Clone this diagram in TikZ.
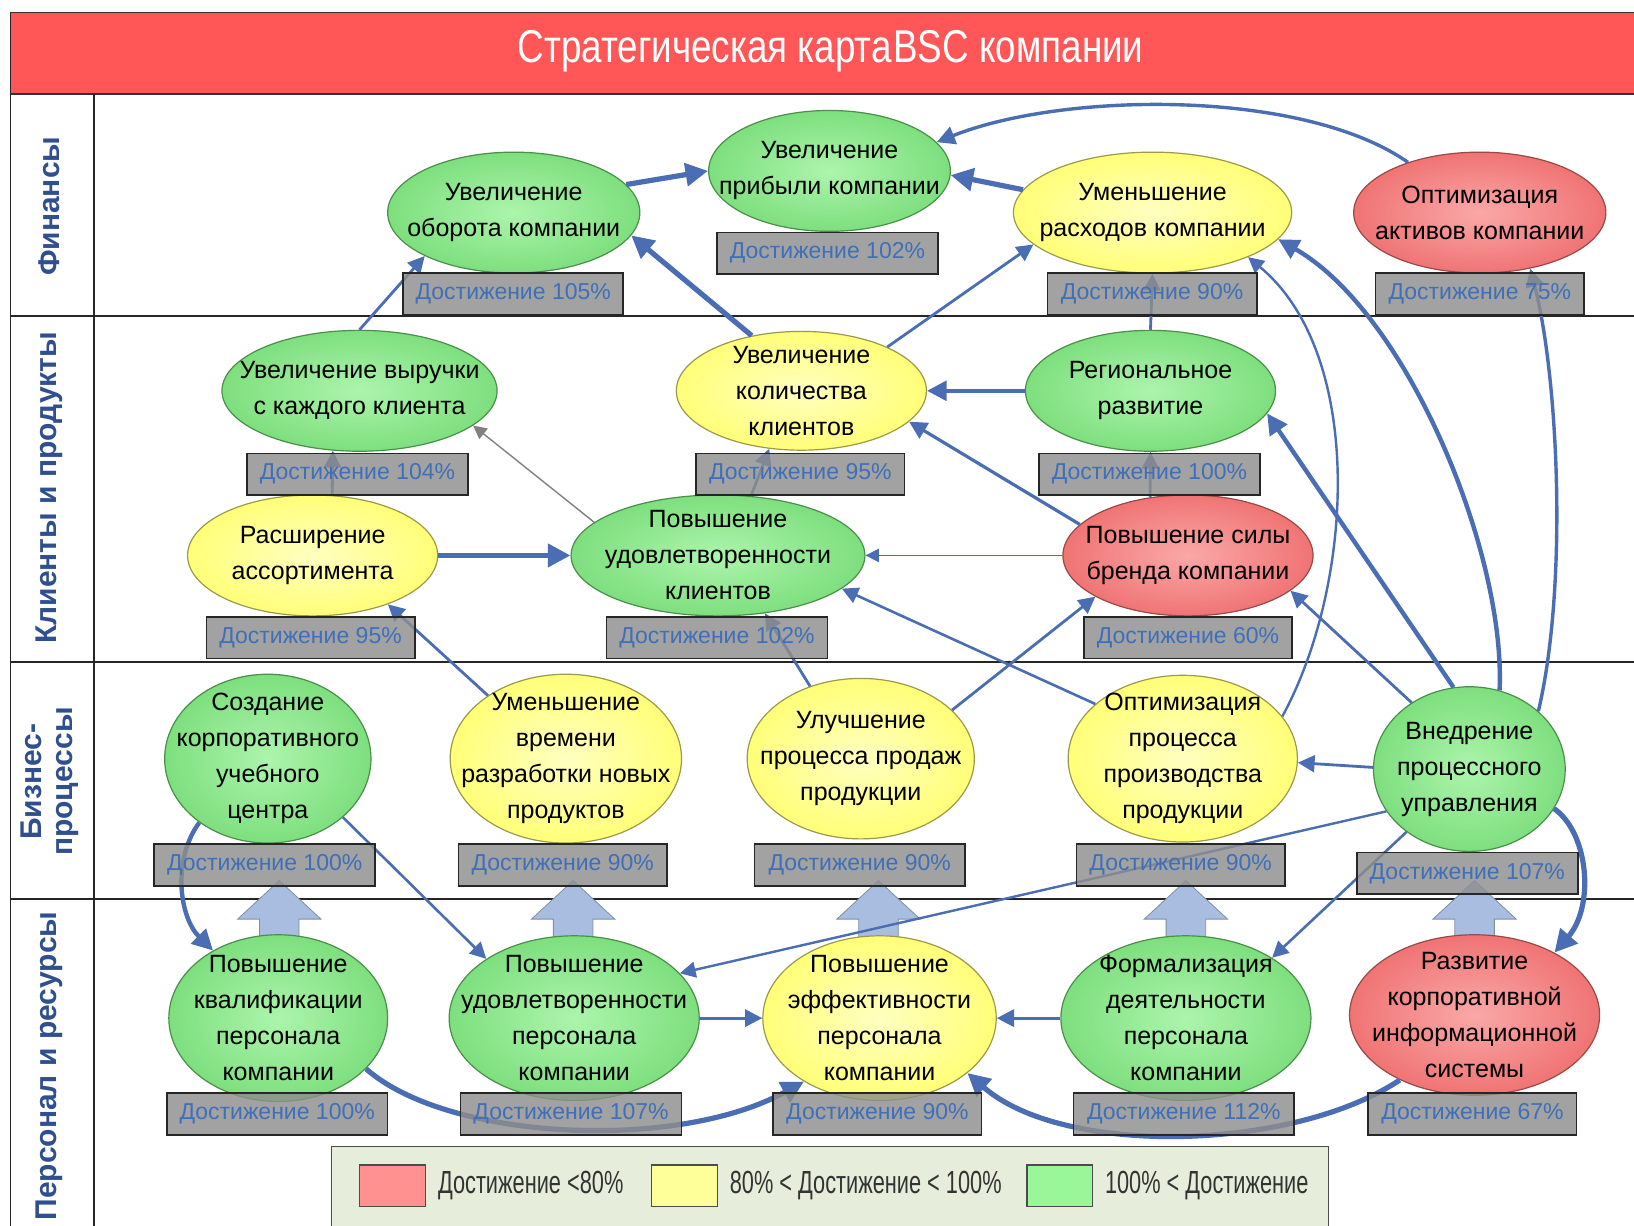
\documentclass[tikz,border=0pt]{standalone}
\usepackage{fontspec}
\setmainfont{Liberation Sans}
\usepackage{graphicx}
\usetikzlibrary{shapes.geometric,arrows.meta}

% one drawing unit
\newcommand{\pxu}{0.5211pt}

\definecolor{titlered}{HTML}{FF5757}
\definecolor{rowblue}{HTML}{2F4F8F}
\definecolor{conblue}{HTML}{4A6DB3}
\definecolor{gIn}{HTML}{ACF5AC}
\definecolor{gOut}{HTML}{7EDF7E}
\definecolor{gLine}{HTML}{4A8F4A}
\definecolor{yIn}{HTML}{FFFFC0}
\definecolor{yOut}{HTML}{FFFF78}
\definecolor{yLine}{HTML}{9A9A48}
\definecolor{rIn}{HTML}{FAA8A8}
\definecolor{rOut}{HTML}{F07474}
\definecolor{rLine}{HTML}{9A4848}
\definecolor{boxgray}{HTML}{8E8E8E}
\definecolor{boxtext}{HTML}{3F6FB8}
\definecolor{blockblue}{HTML}{A9BDE0}
\definecolor{legendbg}{HTML}{E7EDDB}
\definecolor{legred}{HTML}{FF9191}
\definecolor{legyellow}{HTML}{FFFF99}
\definecolor{leggreen}{HTML}{99F799}

\tikzset{
  goal/.style={ellipse, line width=0.6pt, inner xsep=-60pt, inner ysep=-45pt,
    align=center, font=\fontsize{12.5}{18}\selectfont},
  goalg/.style={goal, draw=gLine, inner color=gIn, outer color=gOut},
  goaly/.style={goal, draw=yLine, inner color=yIn, outer color=yOut},
  goalr/.style={goal, draw=rLine, inner color=rIn, outer color=rOut},
  kpi/.style={rectangle, draw=black!85, line width=0.8pt, fill=boxgray,
    fill opacity=0.82, text opacity=1, text=boxtext, minimum height=40*\pxu,
    inner sep=0pt, font=\fontsize{11.5}{13}\selectfont},
  link/.style={draw=conblue, line width=1.4pt,
    -{Triangle[length=5pt 2.4, width=5pt 2.4]}},
  heavy/.style={link, line width=2.6pt},
  light/.style={link, line width=0.7pt},
  rowlabel/.style={rotate=90, align=center, text=rowblue,
    font=\fontsize{15}{16}\selectfont\bfseries},
  gridline/.style={draw=black!85, line width=0.9pt},
  uparrow/.style={fill=blockblue, draw=blockblue!75!black, line width=0.4pt},
  legsq/.style={rectangle, draw=black!70, line width=0.6pt,
    minimum width=63*\pxu, minimum height=40*\pxu},
  legtext/.style={anchor=west, text=black!80, inner sep=0pt,
    font=\fontsize{16}{18}\selectfont},
}

% broad up arrow between the two lower rows
\newcommand{\blockup}[1]{%
  \filldraw[uparrow] (#1-19,908) -- (#1-19,882) -- (#1-40,882) -- (#1,845)
    -- (#1+40,882) -- (#1+19,882) -- (#1+19,908) -- cycle;}

\begin{document}
\begin{tikzpicture}[x=\pxu, y=-\pxu]
\useasboundingbox (0,0) rectangle (1568,1176);
\fill[white] (0,0) rectangle (1568,1176);

% title bar
\filldraw[fill=titlered, draw=black!80, line width=0.9pt] (10,12) rectangle (1580,90);
\node[text=white, font=\fontsize{23}{26}\selectfont] (title) at (797,49)
  {\scalebox{0.8}[1]{Стратегическая карта\hspace{0.05em}BSC компании}};

% frame and row separators
\draw[gridline] (10,12) -- (10,1190);
\draw[gridline] (90,90) -- (90,1190);
\draw[gridline] (10,303) -- (1580,303);
\draw[gridline] (10,635) -- (1580,635);
\draw[gridline] (10,863) -- (1580,863);

% row captions
\node[rowlabel] (row-fin) at (47,198) {Финансы};
\node[rowlabel] (row-cli) at (47,468) {Клиенты и продукты};
\node[rowlabel, font=\fontsize{15}{15.5}\selectfont\bfseries] (row-bus) at (48,750) {Бизнес-\\процессы};
\node[rowlabel] (row-res) at (47,1023) {Персонал и ресурсы};

% support arrows from resources to processes
\blockup{268}
\blockup{550}
\blockup{843}
\blockup{1138}
\blockup{1415}

% ---- goals: finances
\node[goalg, minimum width=242*\pxu, minimum height=116*\pxu] (turnover) at (493,204) {Увеличение\\оборота компании};
\node[goalg, minimum width=232*\pxu, minimum height=116*\pxu] (profit) at (796,164) {Увеличение\\прибыли компании};
\node[goaly, minimum width=267*\pxu, minimum height=116*\pxu] (costs) at (1106,204) {Уменьшение\\расходов компании};
\node[goalr, minimum width=242*\pxu, minimum height=116*\pxu] (assets) at (1420,204) {Оптимизация\\активов компании};

% ---- goals: clients and products
\node[goalg, minimum width=264*\pxu, minimum height=116*\pxu] (revenue) at (345,375) {Увеличение выручки\\с каждого клиента};
\node[goaly, minimum width=240*\pxu, minimum height=114*\pxu] (clients) at (769,375) {Увеличение\\количества\\клиентов};
\node[goalg, minimum width=240*\pxu, minimum height=116*\pxu] (region) at (1104,375) {Региональное\\развитие};
\node[goaly, minimum width=240*\pxu, minimum height=116*\pxu] (range) at (300,533) {Расширение\\ассортимента};
\node[goalg, minimum width=282*\pxu, minimum height=116*\pxu] (satisf) at (689,533) {Повышение\\удовлетворенности\\клиентов};
\node[goalr, minimum width=240*\pxu, minimum height=116*\pxu] (brand) at (1140,533) {Повышение силы\\бренда компании};

% ---- goals: business processes
\node[goalg, minimum width=198*\pxu, minimum height=162*\pxu] (school) at (257,728) {Создание\\корпоративного\\учебного\\центра};
\node[goaly, minimum width=222*\pxu, minimum height=162*\pxu] (devtime) at (543,728) {Уменьшение\\времени\\разработки новых\\продуктов};
\node[goaly, minimum width=218*\pxu, minimum height=154*\pxu] (sales) at (826,728) {Улучшение\\процесса продаж\\продукции};
\node[goaly, minimum width=220*\pxu, minimum height=160*\pxu] (prod) at (1135,728) {Оптимизация\\процесса\\производства\\продукции};
\node[goalg, minimum width=184*\pxu, minimum height=158*\pxu] (procmgmt) at (1410,738) {Внедрение\\процессного\\управления};

% ---- goals: staff and resources
\node[goalg, minimum width=210*\pxu, minimum height=160*\pxu] (qualif) at (267,977) {Повышение\\квалификации\\персонала\\компании};
\node[goalg, minimum width=240*\pxu, minimum height=158*\pxu] (staffsat) at (551,977) {Повышение\\удовлетворенности\\персонала\\компании};
\node[goaly, minimum width=224*\pxu, minimum height=158*\pxu] (effic) at (844,977) {Повышение\\эффективности\\персонала\\компании};
\node[goalg, minimum width=240*\pxu, minimum height=158*\pxu] (formal) at (1138,977) {Формализация\\деятельности\\персонала\\компании};
\node[goalr, minimum width=240*\pxu, minimum height=154*\pxu] (infosys) at (1415,974) {Развитие\\корпоративной\\информационной\\системы};

% ---- cause and effect links
\draw[heavy] (turnover.14) -- (profit.180);
\draw[heavy] (costs.170) -- (profit.-2);
\draw[link, line width=1.7pt] (assets.145) .. controls (1250,85) and (1020,88) .. (profit.15);
\draw[link] (revenue.90) -- (turnover.206);
\draw[heavy] (clients.132) -- (turnover.-11);
\draw[link] (clients.27) -- (costs.195);
\draw[link] (region.90) -- (costs.270);
\draw[heavy, line width=2.2pt] (procmgmt.69) .. controls (1445,530) and (1350,300) .. (costs.-12);
\draw[link, line width=1.2pt] (prod.23) .. controls (1300,560) and (1310,340) .. (costs.-25);
\draw[link, line width=1.7pt] (procmgmt.40) .. controls (1505,560) and (1495,360) .. (assets.-48);

\draw[link, line width=2pt] (region.180) -- (clients.0);
\draw[link] (range.72) -- (revenue.246);
\draw[link] (satisf.61) -- (clients.241);
\draw[link] (brand.123) -- (region.270);
\draw[link, line width=1.6pt] (brand.164) -- (clients.-16);
\draw[light, draw=gray] (satisf.165) -- (revenue.-17);
\draw[heavy] (range.0) -- (satisf.180);
\draw[light] (brand.180) -- (satisf.0);

\draw[link] (devtime.141) -- (range.-33);
\draw[link] (sales.125) -- (satisf.-51);
\draw[link] (sales.28) -- (brand.204);
\draw[link, line width=1.3pt] (prod.148) -- (satisf.-15);
\draw[heavy, line width=2.2pt] (procmgmt.101) -- (region.-11);
\draw[link] (procmgmt.131) -- (brand.-19);
\draw[link] (procmgmt.179) -- (prod.-2);
\draw[link, line width=1.2pt] (procmgmt.207) -- (staffsat.23);
\draw[link, line width=1.3pt] (procmgmt.225) -- (formal.35);
\draw[heavy] (procmgmt.-25) .. controls (1525,800) and (1530,870) .. (infosys.38);
\draw[heavy, line width=2.2pt] (school.223) .. controls (165,825) and (172,880) .. (qualif.134);
\draw[link, line width=1.3pt] (school.-38) -- (staffsat.146);

\draw[link, line width=1.5pt] (staffsat.0) -- (effic.180);
\draw[link, line width=1.5pt] (formal.180) -- (effic.0);
\draw[heavy] (qualif.-30) .. controls (430,1095) and (650,1105) .. (effic.220);
\draw[heavy] (infosys.221) .. controls (1240,1105) and (1020,1110) .. (effic.-32);

% ---- achievement plates
\node[kpi, minimum width=211*\pxu] (k-turnover) at (492.5,282) {Достижение 105\%};
\node[kpi, minimum width=212*\pxu] (k-profit) at (794,243) {Достижение 102\%};
\node[kpi, minimum width=201*\pxu] (k-costs) at (1105.5,282) {Достижение 90\%};
\node[kpi, minimum width=200*\pxu] (k-assets) at (1420,282) {Достижение 75\%};
\node[kpi, minimum width=212*\pxu] (k-revenue) at (343,455) {Достижение 104\%};
\node[kpi, minimum width=200*\pxu] (k-clients) at (768,455) {Достижение 95\%};
\node[kpi, minimum width=212*\pxu] (k-region) at (1103,455) {Достижение 100\%};
\node[kpi, minimum width=200*\pxu] (k-range) at (298,612) {Достижение 95\%};
\node[kpi, minimum width=212*\pxu] (k-satisf) at (688,612) {Достижение 102\%};
\node[kpi, minimum width=200*\pxu] (k-brand) at (1140,612) {Достижение 60\%};
\node[kpi, minimum width=212*\pxu] (k-school) at (254,830) {Достижение 100\%};
\node[kpi, minimum width=200*\pxu] (k-devtime) at (540,830) {Достижение 90\%};
\node[kpi, minimum width=202*\pxu] (k-sales) at (825,830) {Достижение 90\%};
\node[kpi, minimum width=200*\pxu] (k-prod) at (1133,830) {Достижение 90\%};
\node[kpi, minimum width=212*\pxu] (k-procmgmt) at (1408,838) {Достижение 107\%};
\node[kpi, minimum width=212*\pxu] (k-qualif) at (266,1069) {Достижение 100\%};
\node[kpi, minimum width=212*\pxu] (k-staffsat) at (548,1069) {Достижение 107\%};
\node[kpi, minimum width=200*\pxu] (k-effic) at (842,1069) {Достижение 90\%};
\node[kpi, minimum width=212*\pxu] (k-formal) at (1136,1069) {Достижение 112\%};
\node[kpi, minimum width=200*\pxu] (k-infosys) at (1413,1069) {Достижение 67\%};

% ---- legend
\filldraw[fill=legendbg, draw=black!70, line width=0.8pt] (318,1100) rectangle (1275,1190);
\node[legsq, fill=legred] (leg-red) at (376.5,1138) {};
\node[legsq, fill=legyellow] (leg-yellow) at (657,1138) {};
\node[legsq, fill=leggreen] (leg-green) at (1017,1138) {};
\node[legtext] (leg-red-t) at (420,1138) {\scalebox{0.68}[1]{Достижение <80\%}};
\node[legtext] (leg-yellow-t) at (700,1138) {\scalebox{0.68}[1]{80\%  < Достижение < 100\%}};
\node[legtext] (leg-green-t) at (1060,1138) {\scalebox{0.68}[1]{100\%  < Достижение}};
\end{tikzpicture}
\end{document}
